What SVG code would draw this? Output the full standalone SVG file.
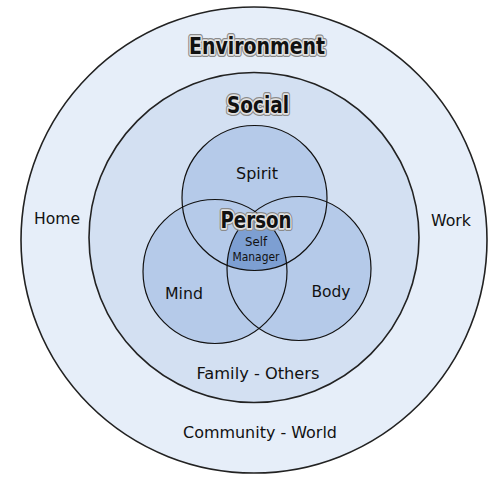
<svg xmlns="http://www.w3.org/2000/svg" width="500" height="500" viewBox="0 0 500 500">
<defs>
<style>
.ring{stroke:#222;stroke-width:1.6}
.line{fill:none;stroke:#111;stroke-width:1.2}
.lbl{font-family:"DejaVu Sans",Verdana,sans-serif;font-size:16px;fill:#111;text-anchor:middle}
.small{font-family:"DejaVu Sans",Verdana,sans-serif;font-size:12px;fill:#111;text-anchor:middle}
.halo{font-family:"DejaVu Sans",Verdana,sans-serif;font-weight:bold;font-size:23px;text-anchor:middle;fill:#111;stroke:#8a8a8a;stroke-width:6;stroke-linejoin:round}
.head{font-family:"DejaVu Sans",Verdana,sans-serif;font-weight:bold;font-size:23px;text-anchor:middle;fill:#111;stroke:#e2e2e2;stroke-width:3.5;stroke-linejoin:round;paint-order:stroke}
</style>
<clipPath id="cm"><circle cx="215" cy="271.5" r="72"/></clipPath>
<clipPath id="cb"><circle cx="299" cy="268.5" r="72"/></clipPath>
</defs>
<rect width="500" height="500" fill="#fff"/>
<g id="environment">
<circle class="ring" cx="254" cy="240" r="233" fill="#e6eef9"/>
<text class="halo" x="257" y="54" textLength="136" lengthAdjust="spacingAndGlyphs">Environment</text>
<text class="head" x="257" y="54" textLength="136" lengthAdjust="spacingAndGlyphs">Environment</text>
<text class="lbl" x="57" y="224" textLength="46" lengthAdjust="spacingAndGlyphs">Home</text>
<text class="lbl" x="451" y="226" textLength="40" lengthAdjust="spacingAndGlyphs">Work</text>
<text class="lbl" x="260" y="438" textLength="154" lengthAdjust="spacingAndGlyphs">Community - World</text>
</g>
<g id="social">
<circle class="ring" cx="254" cy="237.5" r="165" fill="#d3e0f2"/>
<text class="halo" x="258" y="113" textLength="62" lengthAdjust="spacingAndGlyphs">Social</text>
<text class="head" x="258" y="113" textLength="62" lengthAdjust="spacingAndGlyphs">Social</text>
<text class="lbl" x="258" y="379" textLength="123" lengthAdjust="spacingAndGlyphs">Family - Others</text>
</g>
<g id="spirit">
<circle cx="254.5" cy="198" r="72.5" fill="#b5cae9"/>
</g>
<g id="mind">
<circle cx="215" cy="271.5" r="72" fill="#b5cae9"/>
</g>
<g id="body">
<circle cx="299" cy="268.5" r="72" fill="#b5cae9"/>
</g>
<g id="self-manager">
<g clip-path="url(#cm)"><circle cx="254.5" cy="198" r="72.5" fill="#7d9fd2" clip-path="url(#cb)"/></g>
</g>
<g id="connectors">
<circle class="line" cx="254.5" cy="198" r="72.5"/>
<circle class="line" cx="215" cy="271.5" r="72"/>
<circle class="line" cx="299" cy="268.5" r="72"/>
</g>
<g id="labels">
<text class="lbl" x="257" y="179" textLength="42" lengthAdjust="spacingAndGlyphs">Spirit</text>
<text class="lbl" x="184" y="299" textLength="38" lengthAdjust="spacingAndGlyphs">Mind</text>
<text class="lbl" x="331" y="297" textLength="39" lengthAdjust="spacingAndGlyphs">Body</text>
<text class="halo" x="256" y="228" textLength="71" lengthAdjust="spacingAndGlyphs">Person</text>
<text class="head" x="256" y="228" textLength="71" lengthAdjust="spacingAndGlyphs">Person</text>
<text class="small" x="256" y="246" textLength="22" lengthAdjust="spacingAndGlyphs">Self</text>
<text class="small" x="256" y="261" textLength="47" lengthAdjust="spacingAndGlyphs">Manager</text>
</g>
</svg>
